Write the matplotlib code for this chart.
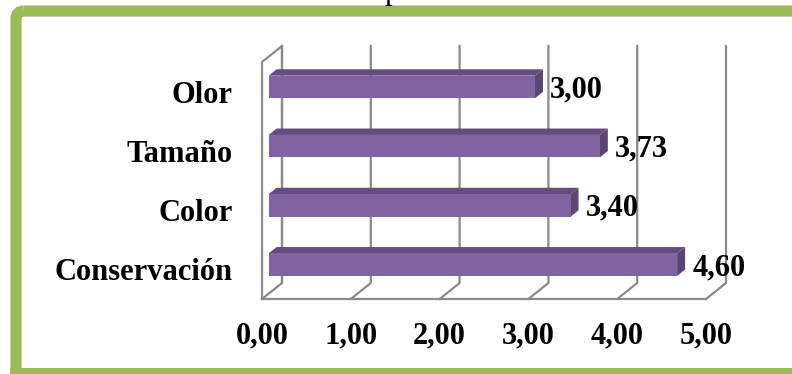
import matplotlib.pyplot as plt
from matplotlib.patches import Polygon, FancyBboxPatch, Rectangle

categorias = ['Conservación', 'Color', 'Tamaño', 'Olor']
valores = [4.60, 3.40, 3.73, 3.00]
ticks = [0, 1, 2, 3, 4, 5]
etiquetas_x = ['0,00', '1,00', '2,00', '3,00', '4,00', '5,00']

# estilo
fuente = 'Liberation Serif'
morado = '#8064A2'
morado_sup = '#634D80'
morado_lado = '#5A4575'
gris = '#8A8A8A'
verde = '#9BBB59'

# perspectiva: desplazamiento de la pared del fondo hacia el frente (unidades de datos)
DX, DY = -0.225, -0.27
d_front, d_back = 0.67, 0.27
alto = 0.38

def p(v, y, d):
    return (v + d * DX, y + d * DY)

fig = plt.figure(figsize=(7.92, 3.74), dpi=100)

# marco verde en pixeles (cortado a la derecha y abajo)
bg = fig.add_axes([0, 0, 1, 1])
bg.set_xlim(0, 792)
bg.set_ylim(374, 0)
bg.axis('off')
bg.add_patch(FancyBboxPatch((16, 11), 1200, 600, boxstyle='round,pad=0,rounding_size=8',
                            fill=False, ec=verde, lw=8))
bg.add_patch(Rectangle((10, 368), 800, 10, fc=verde, ec='none'))
fig.text(392 / 792, 1 + 1 / 374, 'p', ha='center', va='baseline',
         fontsize=22, family=fuente)

ax = fig.add_axes([0, 0, 1, 1])
ax.set_xlim(-282 / 88.8, (792 - 282) / 88.8)
ax.set_ylim(-(374 - 283) / 59.25, 4 + 46 / 59.25)
ax.axis('off')

n = len(categorias)
# pared izquierda
ax.plot(*zip(p(0, 0, 0), p(0, n, 0), p(0, n, 1), p(0, 0, 1)), color=gris, lw=1.6, zorder=1)
# lineas de division (pared del fondo + piso)
for t in ticks:
    ax.plot(*zip(p(t, n, 0), p(t, 0, 0), p(t, 0, 1)), color=gris, lw=1.6, zorder=1)
# borde frontal del piso
ax.plot(*zip(p(0, 0, 1), p(ticks[-1], 0, 1)), color=gris, lw=1.6, zorder=1)

# barras 3D
for i, (cat, v) in enumerate(zip(categorias, valores)):
    yb = i + 0.49 - alto / 2
    yt = i + 0.49 + alto / 2
    frente = [p(0, yb, d_front), p(v, yb, d_front), p(v, yt, d_front), p(0, yt, d_front)]
    arriba = [p(0, yt, d_front), p(v, yt, d_front), p(v, yt, d_back), p(0, yt, d_back)]
    lado = [p(v, yb, d_front), p(v, yb, d_back), p(v, yt, d_back), p(v, yt, d_front)]
    ax.add_patch(Polygon(arriba, closed=True, fc=morado_sup, ec='none', zorder=3))
    ax.add_patch(Polygon(lado, closed=True, fc=morado_lado, ec='none', zorder=3))
    ax.add_patch(Polygon(frente, closed=True, fc=morado, ec='none', zorder=4))
    xl, yl = p(v, i + 0.49, d_back)
    ax.text(xl + 0.08, i + 0.44 + d_front * DY, f'{v:.2f}'.replace('.', ','),
            ha='left', va='center', fontsize=22, fontweight='bold', family=fuente, zorder=5)
    xc, yc = p(0, i + 0.5, 1)
    ax.text(xc - 0.327, yc - 0.06, cat, ha='right', va='center', fontsize=22,
            fontweight='bold', family=fuente, zorder=5)

for t, lab in zip(ticks, etiquetas_x):
    xt, yt0 = p(t, 0, 1)
    ax.text(xt, yt0 - 0.62, lab, ha='center', va='center', fontsize=22,
            fontweight='bold', family=fuente, zorder=5)

fig.savefig('out.png', dpi=100)
